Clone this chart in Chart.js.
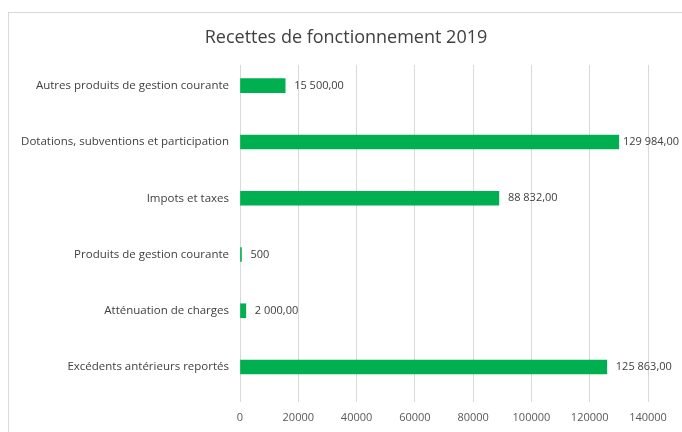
<!DOCTYPE html>
<html>
<head>
<meta charset="utf-8">
<script src="https://cdn.jsdelivr.net/npm/chart.js@4/dist/chart.umd.min.js"></script>
<style>
  html, body { margin: 0; padding: 0; background: #fff; }
  #wrap { width: 682px; height: 432px; }
</style>
</head>
<body>
<div id="wrap"><canvas id="chart" width="682" height="432"></canvas></div>
<script>
// Chart data
var chartTitle = 'Recettes de fonctionnement 2019';
var categories = [
  'Autres produits de gestion courante',
  'Dotations, subventions et participation',
  'Impots et taxes',
  'Produits de gestion courante',
  'Atténuation de charges',
  'Excédents antérieurs reportés'
];
var amounts = [15500, 129984, 88832, 500, 2000, 125863];
var amountLabels = ['15 500,00', '129 984,00', '88 832,00', '500', '2 000,00', '125 863,00'];
var xTicks = [0, 20000, 40000, 60000, 80000, 100000, 120000, 140000];

var textColor = '#595959';
var fontFamily = '"Open Sans", Lato, sans-serif';

// Frame round the chart and the title, centred on the whole frame
var framePlugin = {
  id: 'frame',
  beforeDraw: function (chart) {
    var ctx = chart.ctx;
    ctx.save();
    ctx.fillStyle = '#ffffff';
    ctx.fillRect(0, 0, chart.width, chart.height);
    ctx.strokeStyle = '#d9d9d9';
    ctx.lineWidth = 1;
    ctx.strokeRect(8.5, 12.5, chart.width + 20, chart.height + 20);
    ctx.font = '18px ' + fontFamily;
    ctx.fillStyle = '#404040';
    ctx.textAlign = 'center';
    ctx.textBaseline = 'middle';
    ctx.fillText(chartTitle, 346, 38);
    ctx.restore();
  }
};

// Value labels at the end of each bar
var valueLabelPlugin = {
  id: 'valueLabels',
  afterDatasetsDraw: function (chart) {
    var ctx = chart.ctx;
    var meta = chart.getDatasetMeta(0);
    ctx.save();
    ctx.font = '11px ' + fontFamily;
    ctx.fillStyle = '#404040';
    ctx.textBaseline = 'middle';
    ctx.textAlign = 'left';
    meta.data.forEach(function (bar, i) {
      var text = amountLabels[i];
      var w = ctx.measureText(text).width;
      var x = Math.min(bar.x + 9, chart.width - 3 - w);
      ctx.fillText(text, x, bar.y);
    });
    ctx.restore();
  }
};

new Chart(document.getElementById('chart'), {
  type: 'bar',
  data: {
    datasets: [{
      data: amounts.map(function (v, i) { return { x: v, y: i }; }),
      backgroundColor: '#00B050',
      borderWidth: 0,
      barThickness: 14
    }]
  },
  options: {
    indexAxis: 'y',
    responsive: false,
    animation: false,
    layout: { padding: { left: 8, right: 34, top: 65, bottom: 8 } },
    plugins: {
      legend: { display: false },
      tooltip: { enabled: false },
      title: { display: false }
    },
    scales: {
      x: {
        type: 'linear',
        min: 0,
        max: 140000,
        afterBuildTicks: function (scale) {
          scale.ticks = xTicks.map(function (v) { return { value: v }; });
        },
        afterFit: function (scale) { scale.height = 22; },
        ticks: {
          color: textColor,
          font: { family: fontFamily, size: 11 },
          padding: 9,
          maxRotation: 0,
          callback: function (v) { return String(v); }
        },
        grid: { color: '#d9d9d9', drawTicks: false },
        border: { display: false }
      },
      y: {
        type: 'linear',
        reverse: true,
        offset: false,
        min: -0.368,
        max: 5.622,
        afterBuildTicks: function (scale) {
          scale.ticks = categories.map(function (c, i) { return { value: i }; });
        },
        afterFit: function (scale) { scale.width = 232; },
        ticks: {
          color: '#404040',
          font: { family: fontFamily, size: 11.5 },
          padding: 11,
          callback: function (v) { return categories[v]; }
        },
        grid: { display: false, drawTicks: false },
        border: { display: false }
      }
    }
  },
  plugins: [framePlugin, valueLabelPlugin]
});
</script>
</body>
</html>
